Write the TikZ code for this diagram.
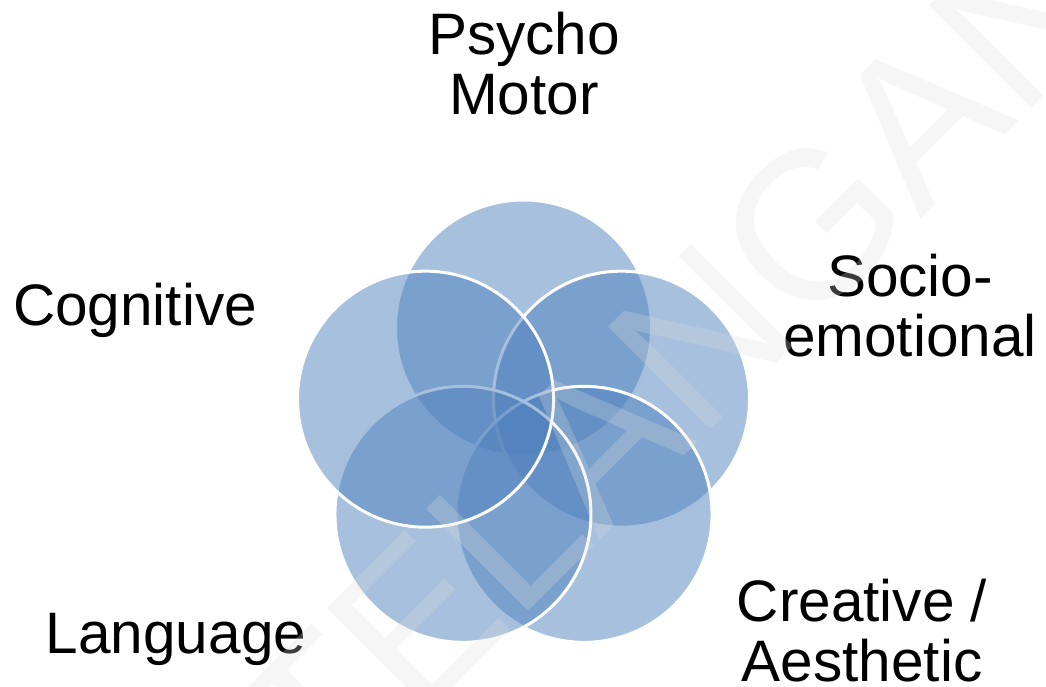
\documentclass[tikz,border=0pt]{standalone}
\usepackage{fontspec}
\setmainfont{Liberation Sans}
\usetikzlibrary{calc}
\definecolor{accent}{RGB}{79,129,189}
\definecolor{wmark}{RGB}{220,220,220}
\begin{document}
\begin{tikzpicture}[x=1pt,y=1pt,
  petal/.style={circle, minimum size=256pt, inner sep=0pt, fill=accent, fill opacity=0.5, draw=white, draw opacity=1, line width=3pt},
  lbl/.style={font=\fontsize{58.5}{60}\selectfont, align=center, inner sep=0pt, anchor=base, text=black},
  wm/.style={font=\fontsize{210}{210}\selectfont, text=wmark, text opacity=0.27, rotate=45, anchor=base west, inner sep=0pt}]
\useasboundingbox (0,0) rectangle (1046,686);
\coordinate (c) at (523.5,255);
\node[petal] (p1) at ($(c)+(90:103)$) {};
\node[petal] (p2) at ($(c)+(18:103)$) {};
\node[petal] (p3) at ($(c)+(-54:103)$) {};
\node[petal] (p4) at ($(c)+(-126:103)$) {};
\node[petal] (p5) at ($(c)+(162:103)$) {};
\node[lbl] (psy) at (524,571.5) {Psycho\\Motor};
\node[lbl] (cog) at (135,360) {Cognitive};
\node[lbl] (soc) at (910,329) {Socio-\\emotional};
\node[lbl] (cre) at (862,4.5) {Creative /\\Aesthetic};
\node[lbl] (lan) at (176,33) {Language};
\node[wm] (wmk) at (326.6,-127.4) {TELANGANA};
\end{tikzpicture}
\end{document}
